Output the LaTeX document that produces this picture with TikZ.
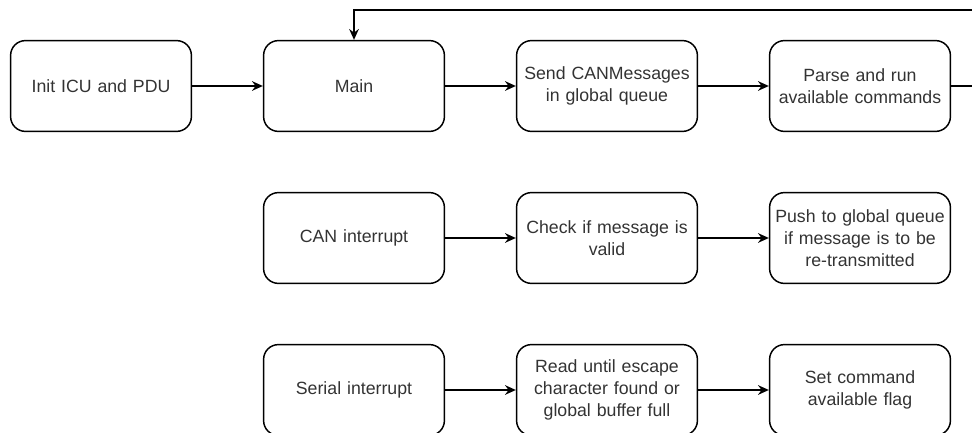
\documentclass[tikz,border=0pt]{standalone}
\usepackage{fontspec}
\setmainfont{Liberation Sans}
\usetikzlibrary{positioning,arrows.meta}

\tikzset{
  stepbox/.style={draw, line width=1.05pt, rounded corners=0.37cm,
    minimum width=4.52cm, minimum height=2.27cm, text width=4.4cm,
    align=center, inner sep=0pt, text=black!80,
    font=\fontsize{12.6}{15.6}\selectfont},
  flow/.style={line width=1.05pt, -{Stealth[length=0.27cm, width=0.24cm]}}
}

\begin{document}
\begin{tikzpicture}[node distance=3.8cm and 6.325cm, on grid, auto]
      \useasboundingbox (-2.525,2.15) rectangle (21.775,-8.675);

      \node[stepbox] (init)                   {Init ICU and PDU};
      \node[stepbox] (main)  [right=of init]  {Main};
      \node[stepbox] (send)  [right=of main]  {Send CANMessages\\in global queue};
      \node[stepbox] (parse) [right=of send]  {Parse and run\\available commands};

      \node[stepbox] (can)   [below=of main]  {CAN interrupt};
      \node[stepbox] (check) [right=of can]   {Check if message is\\valid};
      \node[stepbox] (push)  [right=of check] {Push to global queue\\if message is to be\\re-transmitted};

      \node[stepbox] (ser)   [below=of can]   {Serial interrupt};
      \node[stepbox] (read)  [right=of ser]   {Read until escape\\character found or\\global buffer full};
      \node[stepbox] (flag)  [right=of read]  {Set command\\available flag};

      \coordinate (loopR) at ([xshift=0.7cm]parse.east);
      \coordinate (loopT) at ([yshift=1.9cm]main.center);

      \path[flow]
        (init)  edge (main)
        (main)  edge (send)
        (send)  edge (parse)
        (can)   edge (check)
        (check) edge (push)
        (ser)   edge (read)
        (read)  edge (flag);

      \draw[flow] (parse.east) -- (loopR) |- (loopT) -- (main.north);
    \end{tikzpicture}
\end{document}
